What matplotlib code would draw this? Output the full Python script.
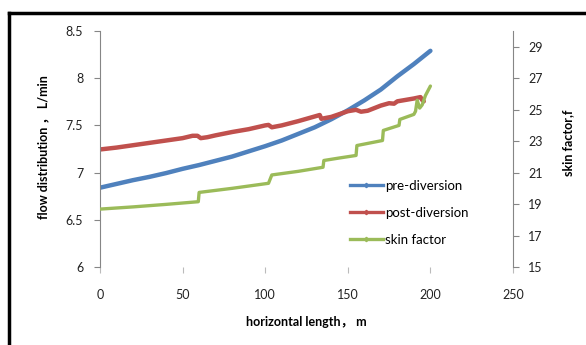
import matplotlib
matplotlib.use("Agg")
import matplotlib.pyplot as plt
from matplotlib.lines import Line2D

# ---- data ----
pre_x = [0, 10, 20, 30, 40, 50, 60, 70, 80, 90, 100, 110, 120, 130, 140, 150, 160, 170, 180, 190, 200]
pre_y = [6.84, 6.88, 6.92, 6.955, 6.995, 7.04, 7.08, 7.125, 7.17, 7.225, 7.28, 7.34, 7.41, 7.48,
         7.565, 7.66, 7.765, 7.88, 8.02, 8.15, 8.29]

post_x = [0, 10, 20, 30, 40, 50, 56, 59, 61, 65, 70, 80, 90, 100, 102, 104, 110, 120, 130, 133, 134,
          140, 150, 155, 158, 162, 170, 175, 178, 180, 185, 190, 194, 195, 196]
post_y = [7.245, 7.265, 7.29, 7.315, 7.34, 7.365, 7.39, 7.39, 7.365, 7.375, 7.395, 7.43, 7.46, 7.50,
          7.505, 7.48, 7.50, 7.545, 7.595, 7.61, 7.57, 7.59, 7.65, 7.665, 7.645, 7.655, 7.71, 7.735,
          7.73, 7.755, 7.77, 7.785, 7.80, 7.77, 7.755]

skin_x = [0, 20, 40, 59.5, 60, 80, 102, 104, 120, 135, 135.5, 145, 155, 155.5, 171, 171.5, 181, 181.5,
          190, 191, 192, 193.5, 195, 197, 200]
skin_y = [18.68, 18.82, 18.98, 19.15, 19.74, 20.0, 20.32, 20.85, 21.08, 21.34, 21.77, 21.93, 22.09,
          22.72, 23.04, 23.68, 24.0, 24.38, 24.7, 24.9, 25.6, 25.1, 25.3, 25.9, 26.5]

x_ticks = [0, 50, 100, 150, 200, 250]
left_ticks = [6, 6.5, 7, 7.5, 8, 8.5]
left_ticklabels = ["6", "6.5", "7", "7.5", "8", "8.5"]
right_ticks = [15, 17, 19, 21, 23, 25, 27, 29]

labels = ["pre-diversion", "post-diversion", "skin factor"]
colors = ["#4F81BD", "#C0504D", "#9BBB59"]

FONT = ["Lato", "Noto Sans CJK SC", "DejaVu Sans"]
plt.rcParams["font.family"] = FONT

W, H = 586, 345
fig = plt.figure(figsize=(W / 100, H / 100), dpi=100)
L, R, T, B = 100, 513, 31, 267
ax = fig.add_axes([L / W, 1 - B / H, (R - L) / W, (B - T) / H])
ax2 = ax.twinx()

gray = "#868686"
l1, = ax.plot(pre_x, pre_y, color=colors[0], lw=3.2, solid_capstyle="round")
l2, = ax.plot(post_x, post_y, color=colors[1], lw=3.2, solid_capstyle="round")
l3, = ax2.plot(skin_x, skin_y, color=colors[2], lw=2.4, solid_capstyle="round")

ax.set_xlim(0, 250)
ax.set_ylim(6, 8.5)
ax2.set_ylim(15, 30)
ax.set_xticks(x_ticks)
ax.set_yticks(left_ticks)
ax.set_yticklabels(left_ticklabels)
ax2.set_yticks(right_ticks)

for a in (ax, ax2):
    for s in ("top", "bottom", "left", "right"):
        a.spines[s].set_visible(False)
ax.spines["left"].set_visible(True)
ax.spines["left"].set_color(gray)
ax2.spines["right"].set_visible(True)
ax2.spines["right"].set_color(gray)

ax.tick_params(axis="y", direction="out", length=4, color=gray, pad=8, labelsize=9, labelcolor="#222222")
ax.tick_params(axis="x", direction="out", length=4, color="#BBBBBB", pad=12, labelsize=9, labelcolor="#222222")
ax2.tick_params(axis="y", direction="out", length=4, color=gray, pad=7, labelsize=9, labelcolor="#222222")

ax.set_ylabel("flow distribution \uff0c L/min", fontsize=9, fontweight="bold")
ax.yaxis.set_label_coords((49 - L) / (R - L), 0.51)
ax.set_xlabel("horizontal length\uff0c m", fontsize=9, fontweight="bold")
ax.xaxis.set_label_coords(0.5, (B - 316) / (B - T))
ax2.set_ylabel("skin factor,f", fontsize=9, fontweight="bold")
ax2.yaxis.set_label_coords((562 - L) / (R - L), 0.525)

handles = [Line2D([], [], color=c, lw=2.4, marker="D", markersize=2.2) for c in colors]
fig.legend(handles, labels, loc="upper left", bbox_to_anchor=(343 / W, 1 - 173 / H),
           frameon=False, fontsize=9.5, handlelength=2.5, handletextpad=0.2, labelspacing=1.15,
           borderpad=0.0)

# outer frame (top and left edges visible)
fig.add_artist(Line2D([9 / W, 9 / W], [0, 1 - 13 / H], transform=fig.transFigure, color="black", lw=2.5))
fig.add_artist(Line2D([9 / W, 1], [1 - 13 / H, 1 - 13 / H], transform=fig.transFigure, color="black", lw=2.5))

fig.savefig("out.png", dpi=100)
